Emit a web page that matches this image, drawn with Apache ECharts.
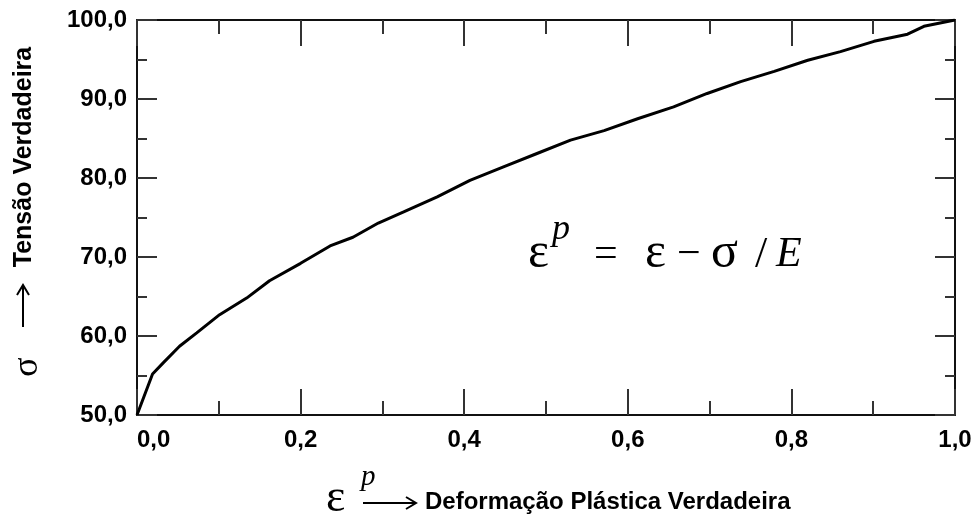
<!DOCTYPE html>
<html>
<head>
<meta charset="utf-8">
<script src="https://cdn.jsdelivr.net/npm/echarts@6/dist/echarts.min.js"></script>
<style>
  html, body { margin: 0; padding: 0; background: #fff; }
  #chart { width: 979px; height: 518px; }
</style>
</head>
<body>
<div id="chart"></div>
<script>
// plastic strain (x) and true stress (y)
const strain = [0, 0.019, 0.032, 0.052, 0.073, 0.101, 0.134, 0.162, 0.200, 0.236, 0.264, 0.295,
  0.326, 0.367, 0.407, 0.448, 0.489, 0.530, 0.571, 0.612, 0.656, 0.697, 0.738, 0.779,
  0.820, 0.860, 0.901, 0.942, 0.962, 1.0];
const stress = [50, 55.2, 56.6, 58.7, 60.4, 62.7, 64.8, 67.0, 69.2, 71.4, 72.5, 74.3,
  75.7, 77.6, 79.7, 81.4, 83.1, 84.8, 86.0, 87.5, 89.0, 90.7, 92.2, 93.5,
  94.9, 96.0, 97.3, 98.2, 99.2, 100];

const xTickLabels = ['0,0', '0,2', '0,4', '0,6', '0,8', '1,0'];
const yTickLabels = ['50,0', '60,0', '70,0', '80,0', '90,0', '100,0'];

const SANS = "'Liberation Sans', Arial, sans-serif";
const SERIF = "'Liberation Serif', 'Times New Roman', serif";
const INK = '#111';

function xAxisDef(position, showLabels) {
  return {
    type: 'value',
    position,
    min: 0,
    max: 1,
    interval: 0.2,
    axisLine: { show: true, onZero: false, lineStyle: { color: INK, width: 2 } },
    axisTick: { show: true, inside: true, length: 26, lineStyle: { color: '#333', width: 2 } },
    minorTick: { show: true, splitNumber: 2, length: 14, lineStyle: { color: '#333', width: 2 } },
    splitLine: { show: false },
    axisLabel: {
      show: showLabels,
      margin: 13,
      color: '#000',
      fontFamily: SANS,
      fontWeight: 'bold',
      fontSize: 24,
      alignMinLabel: 'left',
      formatter: v => xTickLabels[Math.round(v / 0.2)],
    },
  };
}

function yAxisDef(position, showLabels) {
  return {
    type: 'value',
    position,
    min: 50,
    max: 100,
    interval: 10,
    axisLine: { show: true, onZero: false, lineStyle: { color: INK, width: 2 } },
    axisTick: { show: true, inside: true, length: 20, lineStyle: { color: '#333', width: 2 } },
    minorTick: { show: true, splitNumber: 2, length: 10, lineStyle: { color: '#333', width: 2 } },
    splitLine: { show: false },
    axisLabel: {
      show: showLabels,
      margin: 10,
      color: '#000',
      fontFamily: SANS,
      fontWeight: 'bold',
      fontSize: 24,
      formatter: v => yTickLabels[Math.round((v - 50) / 10)],
    },
  };
}

// plain text element; rotated ones are centred on (x, y)
function txt(text, x, y, font, rotation) {
  return {
    type: 'text',
    x, y,
    rotation: rotation || 0,
    style: {
      text, font, fill: '#000',
      align: rotation ? 'center' : 'left',
      verticalAlign: 'middle',
    },
  };
}

const chart = echarts.init(document.getElementById('chart'));
chart.setOption({
  backgroundColor: '#fff',
  animation: false,
  grid: { left: 137, right: 24, top: 20, bottom: 103 },
  xAxis: [xAxisDef('bottom', true), xAxisDef('top', false)],
  yAxis: [yAxisDef('left', true), yAxisDef('right', false)],
  series: [
    {
      type: 'line',
      data: strain.map((x, i) => [x, stress[i]]),
      showSymbol: false,
      symbol: 'none',
      lineStyle: { color: '#000', width: 3 },
    },
  ],
  graphic: [
    // formula inside the plot
    txt('ε', 528, 254, '50px ' + SERIF),
    txt('p', 552, 230, 'italic 36px ' + SERIF),
    txt('=', 594, 255, '42px ' + SERIF),
    txt('ε', 645, 254, '50px ' + SERIF),
    txt('−', 677, 255, '42px ' + SERIF),
    txt('σ', 711, 254, '50px ' + SERIF),
    txt('/', 755, 255, '44px ' + SERIF),
    txt('E', 776, 255, 'italic 42px ' + SERIF),

    // x axis title
    txt('ε', 326, 499, '46px ' + SERIF),
    txt('p', 361, 477, 'italic 29px ' + SERIF),
    { type: 'line', shape: { x1: 363, y1: 503, x2: 415, y2: 503 }, style: { stroke: '#000', lineWidth: 2 } },
    { type: 'polyline', shape: { points: [[406, 497], [416, 503], [406, 509]] }, style: { stroke: '#000', lineWidth: 2, fill: null } },
    txt('Deformação Plástica Verdadeira', 425, 502, 'bold 24px ' + SANS),

    // y axis title (rotated)
    txt('σ', 28, 367, '36px ' + SERIF, Math.PI / 2),
    { type: 'line', shape: { x1: 23, y1: 327, x2: 23, y2: 286 }, style: { stroke: '#000', lineWidth: 2 } },
    { type: 'polyline', shape: { points: [[17, 295], [23, 285], [29, 295]] }, style: { stroke: '#000', lineWidth: 2, fill: null } },
    txt('Tensão Verdadeira', 24, 157, 'bold 25px ' + SANS, Math.PI / 2),
  ],
});
</script>
</body>
</html>
